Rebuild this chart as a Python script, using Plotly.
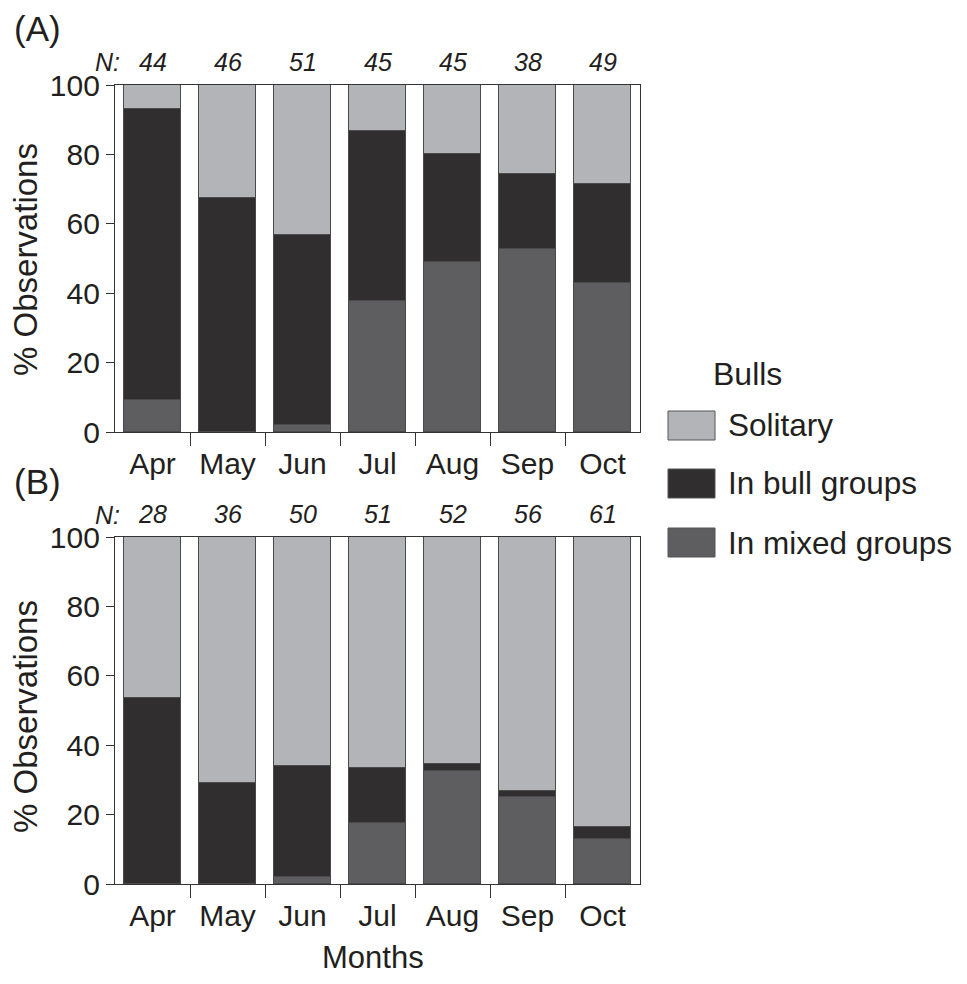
import plotly.graph_objects as go
import numpy as np

months = ["Apr", "May", "Jun", "Jul", "Aug", "Sep", "Oct"]
series_names = ["Solitary", "In bull groups", "In mixed groups"]
legend_title = "Bulls"

n_a = [44, 46, 51, 45, 45, 38, 49]
n_b = [28, 36, 50, 51, 52, 56, 61]

# Panel A (% observations)
mixed_a = [9.1, 0.0, 2.0, 37.8, 48.9, 52.6, 42.9]
bull_a = [84.1, 67.4, 54.9, 48.9, 31.1, 21.7, 28.5]
solitary_a = [6.8, 32.6, 43.1, 13.3, 20.0, 25.7, 28.6]

# Panel B (% observations)
mixed_b = [0.0, 0.0, 2.0, 17.6, 32.7, 25.0, 13.1]
bull_b = [53.6, 29.0, 32.0, 15.7, 1.9, 1.8, 3.3]
solitary_b = [46.4, 71.0, 66.0, 66.7, 65.4, 73.2, 83.6]

y_ticks = [0, 20, 40, 60, 80, 100]

colors = {"Solitary": "#b3b4b8", "In bull groups": "#302e2f", "In mixed groups": "#5e5e61"}
FONT = "Liberation Sans, Arial, sans-serif"
TXT = "#231f20"
OFF = 8  # page body margin offset
W, H = 967 - 2 * OFF, 984 - 2 * OFF

x = np.arange(len(months))

fig = go.Figure()
panels = [
    ("x", "y", {"In mixed groups": mixed_a, "In bull groups": bull_a, "Solitary": solitary_a}),
    ("x2", "y2", {"In mixed groups": mixed_b, "In bull groups": bull_b, "Solitary": solitary_b}),
]
for xa, ya, data in panels:
    for name in ["In mixed groups", "In bull groups", "Solitary"]:
        fig.add_trace(go.Bar(
            x=x, y=data[name], name=name, xaxis=xa, yaxis=ya, width=0.77,
            marker=dict(color=colors[name], line=dict(color="#4a4a4a", width=1)),
            showlegend=False,
        ))

def px_y(p):
    return 1 - (p - OFF) / H

def px_x(p):
    return (p - OFF) / W

xdom = [px_x(115), px_x(640)]
ax_common = dict(
    range=[-0.5, 6.5], tickmode="array", tickvals=list(x), ticktext=months,
    ticks="", showline=True, linecolor="#333333", linewidth=1.3, mirror=True,
    showgrid=False, zeroline=False, ticklabelstandoff=5, automargin=False,
    tickfont=dict(family=FONT, size=30, color=TXT),
    minor=dict(tickmode="array", tickvals=list(x[:-1] + 0.5), ticks="outside",
               ticklen=13, tickwidth=1.3, tickcolor="#333333", showgrid=False),
    fixedrange=True,
)
ay_common = dict(
    range=[0, 100], tickmode="array", tickvals=y_ticks,
    ticks="outside", ticklen=8, tickwidth=1.3, tickcolor="#333333",
    showline=True, linecolor="#333333", linewidth=1.3, mirror=True,
    showgrid=False, zeroline=False, automargin=False,
    tickfont=dict(family=FONT, size=30, color=TXT),
    fixedrange=True,
)

fig.update_layout(
    width=W, height=H, margin=dict(l=0, r=0, t=0, b=0, autoexpand=False),
    paper_bgcolor="white", plot_bgcolor="white", barmode="stack", bargap=0,
    xaxis=dict(domain=xdom, anchor="y", **ax_common),
    yaxis=dict(domain=[px_y(432), px_y(85)], anchor="x", **ay_common),
    xaxis2=dict(domain=xdom, anchor="y2", **ax_common),
    yaxis2=dict(domain=[px_y(884), px_y(537)], anchor="x2", **ay_common),
    showlegend=False,
)

ann = []
# Panel labels
ann.append(dict(text="(A)", x=px_x(12), y=px_y(28), xref="paper", yref="paper",
                xanchor="left", yanchor="middle", showarrow=False,
                font=dict(family=FONT, size=35, color=TXT)))
ann.append(dict(text="(B)", x=px_x(12), y=px_y(481), xref="paper", yref="paper",
                xanchor="left", yanchor="middle", showarrow=False,
                font=dict(family=FONT, size=35, color=TXT)))
# Y titles
for yc in [260, 717]:
    ann.append(dict(text="% Observations", x=px_x(25), y=px_y(yc), xref="paper", yref="paper",
                    textangle=-90, xanchor="center", yanchor="middle", showarrow=False,
                    font=dict(family=FONT, size=33, color=TXT)))
# X title (anchored to the bottom edge of the figure)
ann.append(dict(text="Months", x=px_x(373), y=0, xref="paper", yref="paper",
                xanchor="center", yanchor="bottom", showarrow=False, borderpad=0,
                font=dict(family=FONT, size=31, color=TXT)))
# N labels
for xa, ya, ns, ypix in [("x", "y", n_a, 62), ("x2", "y2", n_b, 515)]:
    ann.append(dict(text="<i>N:</i>", x=px_x(107), y=px_y(ypix), xref="paper", yref="paper",
                    xanchor="center", yanchor="middle", showarrow=False,
                    font=dict(family=FONT, size=25, color=TXT)))
    for i, n in enumerate(ns):
        ann.append(dict(text=f"<i>{n}</i>", x=x[i], y=100, xref=xa, yref=ya,
                        yshift=23, xanchor="center", yanchor="middle", showarrow=False,
                        font=dict(family=FONT, size=25, color=TXT)))

# Manual legend
ann.append(dict(text=legend_title, x=px_x(711), y=px_y(374), xref="paper", yref="paper",
                xanchor="left", yanchor="middle", showarrow=False,
                font=dict(family=FONT, size=32, color=TXT)))
shapes = []
for name, (top, bot) in zip(series_names, [(411, 440), (469, 498), (528, 557)]):
    shapes.append(dict(type="rect", xref="paper", yref="paper",
                       x0=px_x(668), x1=px_x(715), y0=px_y(bot), y1=px_y(top),
                       fillcolor=colors[name], line=dict(color="#555555", width=1)))
    ann.append(dict(text=name, x=px_x(726), y=px_y((top + bot) / 2), xref="paper", yref="paper",
                    xanchor="left", yanchor="middle", showarrow=False,
                    font=dict(family=FONT, size=31.5, color=TXT)))

fig.update_layout(annotations=ann, shapes=shapes)
fig.write_html("out.html")
